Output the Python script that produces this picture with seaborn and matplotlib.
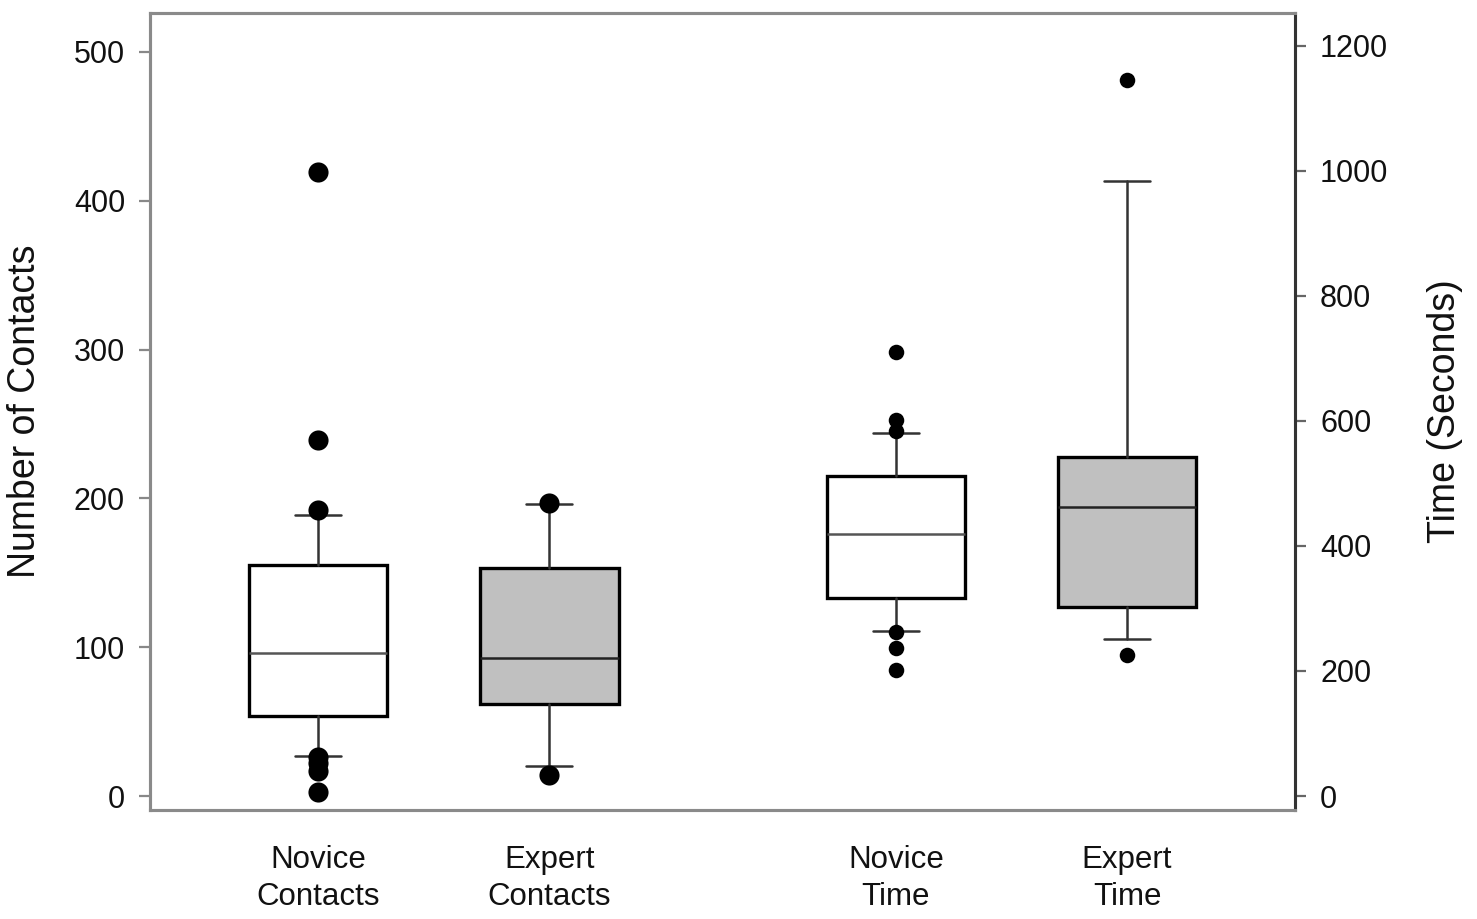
import matplotlib
matplotlib.use("Agg")
import matplotlib.pyplot as plt
import seaborn as sns
import pandas as pd

# Box summaries (whiskers = 10th/90th percentile style)
contact_groups = ["Novice\nContacts", "Expert\nContacts"]
contact_med = [96, 93]
contact_q1 = [54, 62]
contact_q3 = [155, 153]
contact_lo = [27, 20]
contact_hi = [189, 196]
contact_out_novice = [419, 239, 192, 26, 22, 17, 3]
contact_out_expert = [197, 14]

time_groups = ["Novice\nTime", "Expert\nTime"]
time_med = [419, 462]
time_q1 = [317, 302]
time_q3 = [512, 542]
time_lo = [264, 251]
time_hi = [581, 984]
time_out_novice = [710, 602, 584, 262, 237, 202]
time_out_expert = [1146, 226]

left_ticks = [0, 100, 200, 300, 400, 500]
right_ticks = [0, 200, 400, 600, 800, 1000, 1200]

positions = [1, 2, 3.5, 4.5]
box_colors = ["white", "#c0c0c0"]
median_colors = ["#555555", "#222222"]

sns.set_style("white")
plt.rcParams["font.family"] = ["Liberation Sans", "DejaVu Sans"]

fig = plt.figure(figsize=(14.77, 9.19), dpi=100)
ax = fig.add_axes([0.1016, 0.1186, 0.7752, 0.8673])
ax2 = ax.twinx()


def make_stats(labels, med, q1, q3, lo, hi):
    return [dict(label=l, med=m, q1=a, q3=b, whislo=w0, whishi=w1, fliers=[])
            for l, m, a, b, w0, w1 in zip(labels, med, q1, q3, lo, hi)]


def draw(axis, stats, pos):
    res = axis.bxp(stats, positions=pos, widths=0.6, capwidths=0.2,
                   patch_artist=True, showfliers=False, manage_ticks=False,
                   boxprops=dict(edgecolor="black", linewidth=2.4),
                   whiskerprops=dict(color="#333333", linewidth=1.8),
                   capprops=dict(color="#333333", linewidth=1.8),
                   medianprops=dict(color="#444444", linewidth=1.8))
    for patch, c in zip(res["boxes"], box_colors):
        patch.set_facecolor(c)
    for med, c in zip(res["medians"], median_colors):
        med.set_color(c)
    return res


draw(ax, make_stats(contact_groups, contact_med, contact_q1, contact_q3,
                    contact_lo, contact_hi), positions[:2])
draw(ax2, make_stats(time_groups, time_med, time_q1, time_q3,
                     time_lo, time_hi), positions[2:])

# outliers
df_c = pd.DataFrame({
    "x": [positions[0]] * len(contact_out_novice) + [positions[1]] * len(contact_out_expert),
    "y": contact_out_novice + contact_out_expert,
})
df_t = pd.DataFrame({
    "x": [positions[2]] * len(time_out_novice) + [positions[3]] * len(time_out_expert),
    "y": time_out_novice + time_out_expert,
})
sns.scatterplot(data=df_c, x="x", y="y", ax=ax, color="black", s=210,
                edgecolor="black", linewidth=0, zorder=5)
sns.scatterplot(data=df_t, x="x", y="y", ax=ax2, color="black", s=125,
                edgecolor="black", linewidth=0, zorder=5)

ax.set_xlim(0.273, 5.227)
ax.set_ylim(-9.4, 526.2)
ax2.set_ylim(-22.4, 1252.8)

ax.set_xticks(positions)
ax.set_xticklabels(contact_groups + time_groups, fontsize=22.5, color="#111111",
                   linespacing=1.3)
ax.tick_params(axis="x", length=0, pad=25)
ax.set_xlabel("")

ax.set_yticks(left_ticks)
ax.tick_params(axis="y", labelsize=22, length=8, width=1.6, color="#888888",
               direction="out", pad=10, left=True, labelcolor="#111111")
ax2.set_yticks(right_ticks)
ax2.tick_params(axis="y", labelsize=22, length=8, width=1.6, color="#666666",
                direction="out", pad=10, right=True, labelcolor="#111111")

ax.set_ylabel("Number of Contacts", fontsize=27, color="#111111", labelpad=22)
ax2.set_ylabel("Time (Seconds)", fontsize=27, color="#111111",
               rotation=90, labelpad=28)
ax2.set_xlabel("")

for name, sp in ax.spines.items():
    sp.set_linewidth(2.2)
    sp.set_color("#8a8a8a")
for name, sp in ax2.spines.items():
    sp.set_linewidth(2.2)
    sp.set_color("#8a8a8a")
ax2.spines["right"].set_color("#333333")

fig.savefig("out.png", dpi=100)
